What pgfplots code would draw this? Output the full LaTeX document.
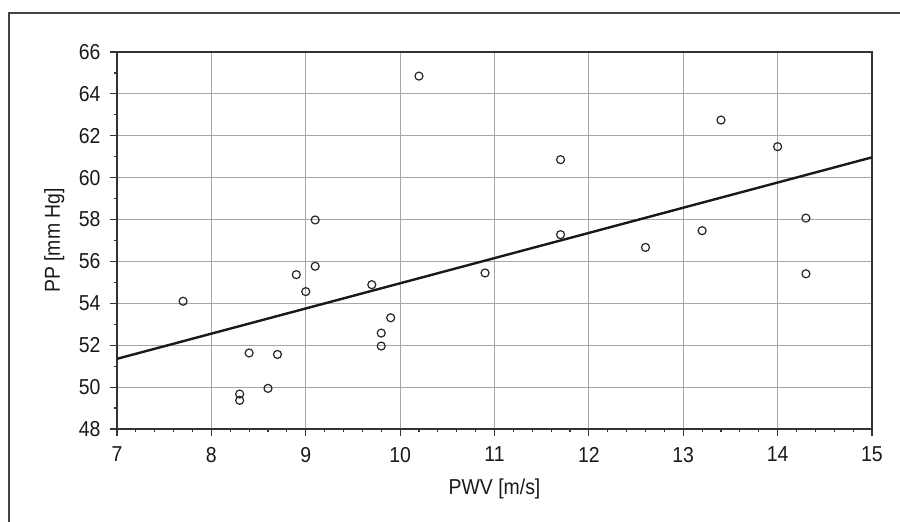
\documentclass[border=0pt]{standalone}
\usepackage{fontspec}
\setmainfont{Liberation Sans}[FakeStretch=0.9]
\usepackage{pgfplots}
\pgfplotsset{compat=1.18}

\definecolor{gridgray}{HTML}{A6A6A6}
\definecolor{axisgray}{HTML}{333333}
\definecolor{framegray}{HTML}{444444}

\begin{document}
\begin{tikzpicture}
% page = 900 x 521 px at 0.5pt per px, axis box lower left at the origin
\path[use as bounding box] (-58.5pt,-46pt) rectangle (391.5pt,214.5pt);
\draw[framegray, line width=0.65pt] (-54pt,-50pt) -- (-54pt,208pt) -- (400pt,208pt);

\begin{axis}[
    at={(0,0)}, anchor=south west,
    scale only axis,
    width=377.5pt,
    height=188.5pt,
    xmin=7, xmax=15,
    ymin=48, ymax=66,
    xtick={7,...,15},
    ytick={48,50,...,66},
    minor x tick num=4,
    minor y tick num=1,
    grid=major,
    major grid style={gridgray, line width=0.5pt},
    tick align=outside,
    xtick pos=bottom, ytick pos=left,
    major tick length=3.5pt,
    minor tick length=1.6pt,
    tick style={axisgray, line width=0.6pt},
    axis line style={axisgray, line width=0.6pt},
    /pgf/number format/assume math mode=true,
    ticklabel style={font=\fontsize{10.8}{13}\selectfont, text=black!90},
    xticklabel style={yshift=-2pt},
    yticklabel style={xshift=-1.2pt},
    xlabel={PWV [m/s]},
    ylabel={PP [mm Hg]},
    label style={font=\fontsize{10.8}{13}\selectfont, text=black!90},
    xlabel style={at={(axis description cs:0.5,-0.159)}, anchor=center},
    ylabel style={at={(axis description cs:-0.083,0.5)}, anchor=center},
]
\addplot[black!90, line width=1.2pt] coordinates {(7,51.35) (15,60.97)};
\addplot[only marks, mark=o, mark size=2pt, black!85,
    mark options={line width=0.6pt}] coordinates {
    (7.7,54.1)
    (8.3,49.67) (8.3,49.37)
    (8.4,51.63) (8.6,49.94) (8.7,51.56)
    (8.9,55.37) (9.0,54.56) (9.1,55.77) (9.1,57.98)
    (9.7,54.89) (9.8,52.58) (9.8,51.96) (9.9,53.31)
    (10.2,64.85) (10.9,55.45)
    (11.7,60.86) (11.7,57.28)
    (12.6,56.67) (13.2,57.47) (13.4,62.75)
    (14.0,61.48) (14.3,58.07) (14.3,55.41)
};
\end{axis}
\end{tikzpicture}
\end{document}
